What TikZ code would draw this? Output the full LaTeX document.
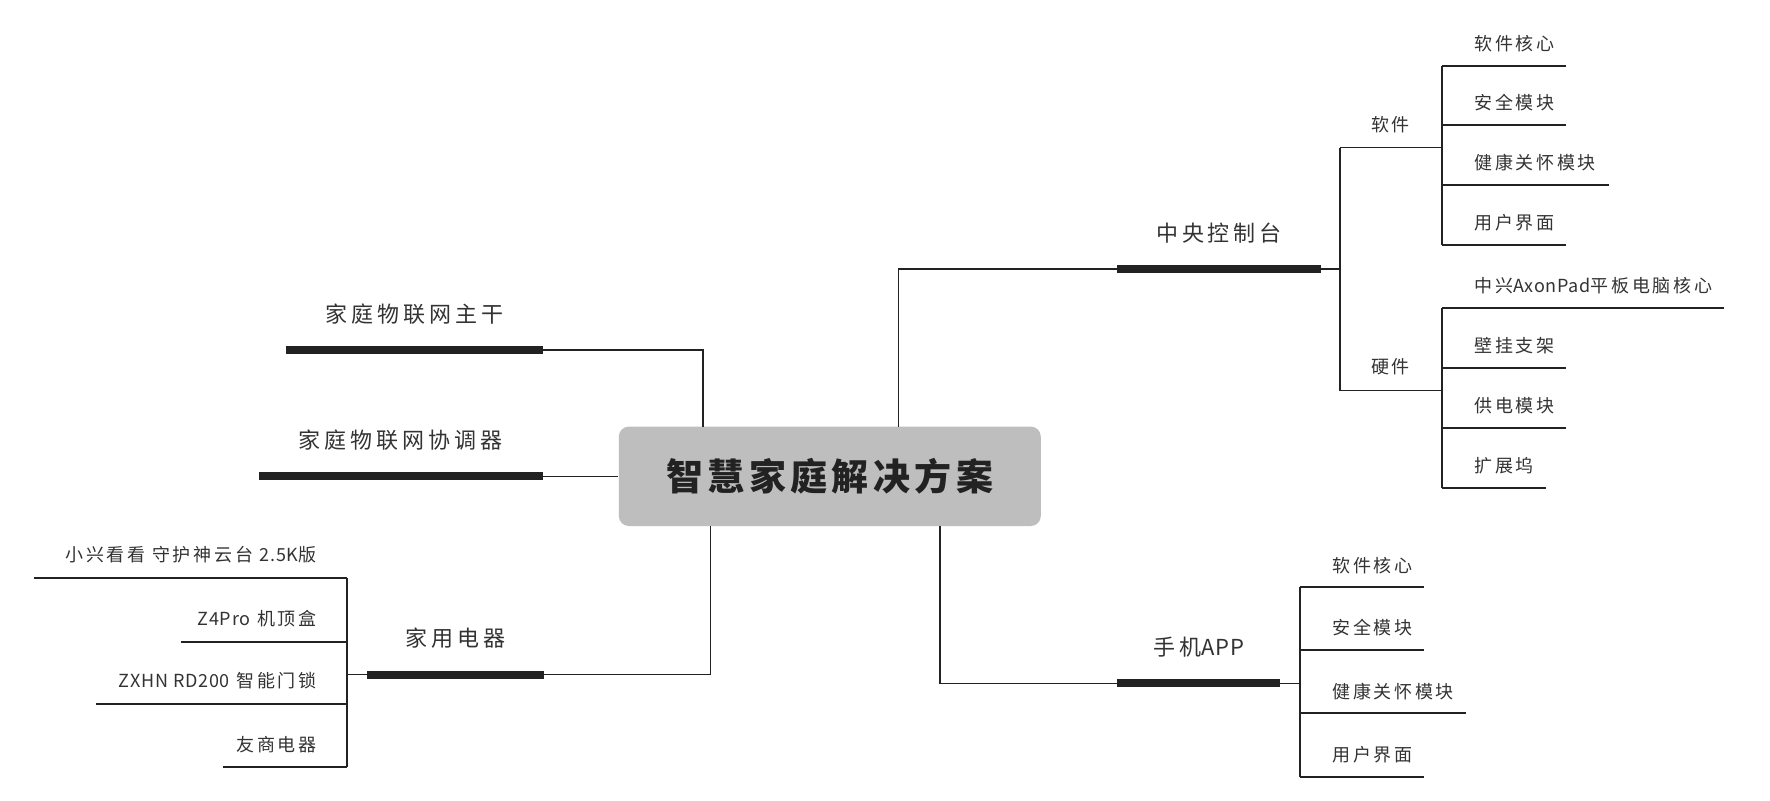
\documentclass[tikz,border=0pt]{standalone}
\usepackage{fontspec}
\setmainfont{Noto Sans CJK SC}
\newfontfamily\leaffont[LetterSpace=15]{Noto Sans CJK SC}
\newfontfamily\midfont[LetterSpace=18]{Noto Sans CJK SC}
\newfontfamily\rootfont[LetterSpace=12]{Noto Sans CJK SC}
\newfontfamily\plainlat[LetterSpace=4]{Noto Sans CJK SC}
\definecolor{boxgray}{HTML}{BEBEBE}
\definecolor{ink}{HTML}{222222}
\definecolor{txt}{HTML}{333333}
\begin{document}
\begin{tikzpicture}[x=0.5pt,y=-0.5pt,
  conn/.style={draw=ink,line width=0.75pt},
  bar/.style={draw=ink,line width=4pt},
  uline/.style={draw=ink,line width=1pt},
  leaf/.style={font=\leaffont\fontsize{9pt}{9pt}\selectfont,text=txt,inner sep=0pt},
  leafL/.style={leaf,anchor=west},
  leafR/.style={leaf,anchor=east},
  mid/.style={font=\midfont\fontsize{11pt}{11pt}\selectfont,text=txt,inner sep=0pt},
  rootbox/.style={rectangle,rounded corners=5pt,fill=boxgray,minimum width=211pt,minimum height=49.7pt,inner sep=0pt,font=\rootfont\bfseries\fontsize{18.5pt}{18.5pt}\selectfont,text=ink}
]
\useasboundingbox[fill=white] (0,0) rectangle (1770,800);

% root
\node[rootbox] (root) at (829.8,476.3) {智慧家庭解决方案};

% ---- branch A: 家庭物联网主干
\coordinate (aL) at (285.6,350);
\coordinate (aR) at (543,350);
\coordinate (aJ) at (703,426.7);
\draw[bar] (aL) -- (aR);
\draw[conn] (aR) -| (aJ);
\node[mid] (aT) at (414.3,314) {家庭物联网主干};

% ---- branch B: 家庭物联网协调器
\coordinate (bL) at (258.5,476.3);
\coordinate (bR) at (543,476.3);
\draw[bar] (bL) -- (bR);
\draw[conn] (bR) -- (root.west);
\node[mid] (bT) at (400.7,440) {家庭物联网协调器};

% ---- branch C: 家用电器
\coordinate (cL) at (367,674.7);
\coordinate (cR) at (543.5,674.7);
\coordinate (cJ) at (710.5,526);
\coordinate (cH) at (346.6,674.7);
\coordinate (cTop) at (346.6,578);
\coordinate (cBot) at (346.6,767.3);
\draw[bar] (cL) -- (cR);
\draw[conn] (cR) -| (cJ);
\draw[conn] (cL) -- (cH);
\draw[uline] (cTop) -- (cBot);
\node[mid] (cT) at (455.5,638) {家用电器};
\foreach \n/\y/\xe/\t in {1/578/33.5/{小兴看看 守护神云台 {\plainlat 2.5K}版},2/641.7/181/{{\plainlat Z4Pro} 机顶盒},3/704/96.4/{{\plainlat ZXHN RD200} 智能门锁},4/767.3/222.7/{友商电器}}{
  \coordinate (c\n a) at (346.6,\y);
  \coordinate (c\n b) at (\xe,\y);
  \draw[uline] (c\n a) -- (c\n b);
  \node[leafR] (c\n) at (317,\y-23) {\t};
}

% ---- branch D: 中央控制台
\coordinate (dJ) at (898.5,426.7);
\coordinate (dL) at (1117,269);
\coordinate (dR) at (1321,269);
\coordinate (dH) at (1340,269);
\coordinate (dTop) at (1340,147.7);
\coordinate (dBot) at (1340,390.7);
\draw[conn] (dJ) |- (dL);
\draw[bar] (dL) -- (dR);
\draw[conn] (dR) -- (dH);
\draw[conn] (dTop) -- (dBot);
\node[mid] (dT) at (1219,233) {中央控制台};
% 软件
\coordinate (sw) at (1442,147.7);
\draw[conn] (dTop) -- (sw);
\node[leaf] (swT) at (1390.6,125) {软件};
\coordinate (swTop) at (1442,65.7);
\coordinate (swBot) at (1442,245);
\draw[uline] (swTop) -- (swBot);
\foreach \n/\y/\xe/\t in {1/65.7/1566/{软件核心},2/125.3/1566/{安全模块},3/185/1608.5/{健康关怀模块},4/245/1566/{用户界面}}{
  \coordinate (s\n a) at (1442,\y);
  \coordinate (s\n b) at (\xe,\y);
  \draw[uline] (s\n a) -- (s\n b);
  \node[leafL] (s\n) at (1474,\y-22.4) {\t};
}
% 硬件
\coordinate (hw) at (1442,390.7);
\draw[conn] (dBot) -- (hw);
\node[leaf] (hwT) at (1390.6,366.7) {硬件};
\coordinate (hwTop) at (1442,308.3);
\coordinate (hwBot) at (1442,488.3);
\draw[uline] (hwTop) -- (hwBot);
\foreach \n/\y/\xe/\t in {1/308.3/1724/{中兴{\plainlat AxonPad}平板电脑核心},2/368.3/1566/{壁挂支架},3/428.3/1566/{供电模块},4/488.3/1545.7/{扩展坞}}{
  \coordinate (h\n a) at (1442,\y);
  \coordinate (h\n b) at (\xe,\y);
  \draw[uline] (h\n a) -- (h\n b);
  \node[leafL] (h\n) at (1474,\y-22.4) {\t};
}

% ---- branch E: 手机APP
\coordinate (eJ) at (940,526);
\coordinate (eL) at (1117,683.3);
\coordinate (eR) at (1280,683.3);
\coordinate (eH) at (1299.6,683.3);
\coordinate (eTop) at (1299.6,587.3);
\coordinate (eBot) at (1299.6,776.7);
\draw[conn] (eJ) |- (eL);
\draw[bar] (eL) -- (eR);
\draw[conn] (eR) -- (eH);
\draw[uline] (eTop) -- (eBot);
\node[mid] (eT) at (1199,646.7) {手机{\plainlat APP}};
\foreach \n/\y/\xe/\t in {1/587.3/1424/{软件核心},2/650/1424/{安全模块},3/713.3/1466/{健康关怀模块},4/776.7/1424/{用户界面}}{
  \coordinate (e\n a) at (1299.6,\y);
  \coordinate (e\n b) at (\xe,\y);
  \draw[uline] (e\n a) -- (e\n b);
  \node[leafL] (e\n) at (1332,\y-22) {\t};
}
\end{tikzpicture}
\end{document}
